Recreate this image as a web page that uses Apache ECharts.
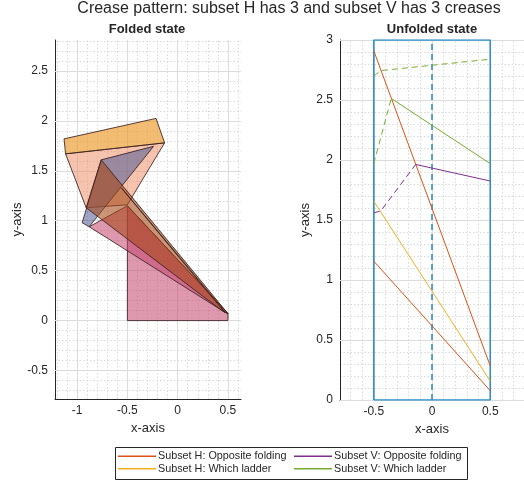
<!DOCTYPE html>
<html><head><meta charset="utf-8">
<script src="https://cdn.jsdelivr.net/npm/echarts@6/dist/echarts.min.js"></script>
<style>html,body{margin:0;padding:0;background:#fff}#c{width:524px;height:483px}</style>
</head><body><div id="c"></div>
<script>
// ---------- text ----------
const titleText = 'Crease pattern: subset H has 3 and subset V has 3 creases';
const leftTitle = 'Folded state';
const rightTitle = 'Unfolded state';
const legendNames = ['Subset H: Opposite folding', 'Subset H: Which ladder', 'Subset V: Opposite folding', 'Subset V: Which ladder'];

// ---------- ticks ----------
const leftXTicks = [-1, -0.5, 0, 0.5];
const leftYTicks = [-0.5, 0, 0.5, 1, 1.5, 2, 2.5];
const leftXMinor = [-1.2, -1.1, -0.9, -0.8, -0.7, -0.6, -0.4, -0.3, -0.2, -0.1, 0.1, 0.2, 0.3, 0.4, 0.6];
const leftYMinor = [-0.7, -0.6, -0.4, -0.3, -0.2, -0.1, 0.1, 0.2, 0.3, 0.4, 0.6, 0.7, 0.8, 0.9, 1.1, 1.2, 1.3, 1.4, 1.6, 1.7, 1.8, 1.9, 2.1, 2.2, 2.3, 2.4, 2.6, 2.7, 2.8];
const rightXTicks = [-0.5, 0, 0.5];
const rightYTicks = [0, 0.5, 1, 1.5, 2, 2.5, 3];
const rightXMinor = [-0.7, -0.6, -0.4, -0.3, -0.2, -0.1, 0.1, 0.2, 0.3, 0.4, 0.6, 0.7];
const rightYMinor = [0.1, 0.2, 0.3, 0.4, 0.6, 0.7, 0.8, 0.9, 1.1, 1.2, 1.3, 1.4, 1.6, 1.7, 1.8, 1.9, 2.1, 2.2, 2.3, 2.4, 2.6, 2.7, 2.8, 2.9];

// ---------- folded state faces (x, y) ----------
const facePinkBase = [[-0.5, 0], [0.5, 0], [0.5, 0.07], [-0.5, 1.15]];
const facePinkFlap = [[-0.5, 1.15], [0.5, 0.07], [0.46, 0.09], [-0.88, 0.94]];
const faceSalmon = [[-1.115, 1.67], [-0.13, 1.78], [-0.5, 1.16], [-0.91, 1.13]];
const faceBlue = [[-0.76, 1.61], [-0.24, 1.745], [-0.88, 0.94], [-0.95, 0.98]];
const faceBrown = [[-0.76, 1.61], [0.5, 0.07], [0.44, 0.1], [-0.91, 1.13]];
const faceTan = [[-0.56, 1.33], [0.47, 0.08], [0.43, 0.14]];
const faceOrange = [[-1.13, 1.82], [-0.215, 2.025], [-0.13, 1.78], [-1.115, 1.67]];

// ---------- unfolded state lines (x, y) ----------
const paperOutline = [[-0.5, 0], [0.5, 0], [0.5, 3], [-0.5, 3], [-0.5, 0]];
const centerLine = [[0, 0], [0, 3]];
const hOpp1 = [[-0.5, 2.91], [0.5, 0.285]];
const hOpp2 = [[-0.5, 1.157], [0.5, 0.078]];
const hWhich = [[-0.5, 1.657], [0.5, 0.157]];
const vOppSolid = [[-0.14, 1.963], [0.5, 1.825]];
const vOppDashed = [[-0.5, 1.56], [-0.44, 1.575], [-0.14, 1.963]];
const vWhichSolid = [[-0.35, 2.513], [0.5, 1.97]];
const vWhichDashedLow = [[-0.5, 1.97], [-0.35, 2.513]];
const vWhichDashedTop = [[-0.5, 2.70], [-0.44, 2.745], [0.5, 2.84]];

// ---------- styling ----------
const FONT = 'Liberation Sans, Arial, Helvetica, sans-serif';
const TXT = '#262626';
const colors = { hOpp: '#D95319', hWhich: '#EDB120', vOpp: '#7E2F8E', vWhich: '#77AC30', paper: '#2f8fc9' };
const faces = [
  { pts: facePinkBase, fill: 'rgba(196,70,110,0.55)' },
  { pts: facePinkFlap, fill: 'rgba(196,70,110,0.55)' },
  { pts: faceSalmon, fill: 'rgba(238,135,95,0.5)' },
  { pts: faceBlue, fill: 'rgba(80,90,145,0.55)' },
  { pts: faceBrown, fill: 'rgba(165,72,22,0.58)' },
  { pts: faceTan, fill: 'rgba(220,170,90,0.5)' },
  { pts: faceOrange, fill: 'rgba(236,152,40,0.65)' }
];

function gridMarkLines(xMajor, yMajor, xMinor, yMinor) {
  const minor = xMinor.map(v => ({ xAxis: v })).concat(yMinor.map(v => ({ yAxis: v })));
  const major = xMajor.map(v => ({ xAxis: v })).concat(yMajor.map(v => ({ yAxis: v })));
  return [
    { type: 'line', data: [], silent: true, z: 0,
      markLine: { z: 0, silent: true, symbol: ['none', 'none'], label: { show: false }, animation: false,
        lineStyle: { color: '#dadada', type: [1.5, 2], width: 1 }, data: minor } },
    { type: 'line', data: [], silent: true, z: 0,
      markLine: { z: 1, silent: true, symbol: ['none', 'none'], label: { show: false }, animation: false,
        lineStyle: { color: '#dcdcdc', type: 'solid', width: 1 }, data: major } }
  ];
}

function axisCommon(min, max, ticks, name, nameGap, isY) {
  return {
    type: 'value', min: min, max: max,
    splitLine: { show: false },
    axisLine: { show: true, onZero: false, lineStyle: { color: TXT, width: 1 } },
    axisTick: { show: true, inside: true, length: 3, customValues: ticks, lineStyle: { color: TXT } },
    axisLabel: { customValues: ticks, color: TXT, fontFamily: FONT, fontSize: 12, margin: isY ? 7 : 6,
      formatter: v => String(Math.round(v * 10) / 10) },
    name: name, nameLocation: 'middle', nameGap: nameGap,
    nameTextStyle: { color: TXT, fontFamily: FONT, fontSize: 13 }
  };
}

const grids = [
  { left: 55, top: 40, width: 186, height: 359 },
  { left: 340, top: 40, width: 188, height: 360 }
];
const xAxes = [
  Object.assign(axisCommon(-1.22, 0.63, leftXTicks, 'x-axis', 22, false), { gridIndex: 0 }),
  Object.assign(axisCommon(-0.79, 0.79, rightXTicks, 'x-axis', 21, false), { gridIndex: 1 })
];
const yAxes = [
  Object.assign(axisCommon(-0.785, 2.81, leftYTicks, 'y-axis', 30, true), { gridIndex: 0 }),
  Object.assign(axisCommon(0, 3, rightYTicks, 'y-axis', 28, true), { gridIndex: 1 })
];

const series = [];
gridMarkLines(leftXTicks, leftYTicks, leftXMinor, leftYMinor).forEach(s => { s.xAxisIndex = 0; s.yAxisIndex = 0; series.push(s); });
gridMarkLines(rightXTicks, rightYTicks, rightXMinor, rightYMinor).forEach(s => { s.xAxisIndex = 1; s.yAxisIndex = 1; series.push(s); });

// folded faces
series.push({
  type: 'custom', xAxisIndex: 0, yAxisIndex: 0, z: 3, silent: true, animation: false,
  data: faces.map((f, i) => [i]),
  renderItem: function (params, api) {
    const f = faces[api.value(0)];
    return { type: 'polygon', shape: { points: f.pts.map(p => api.coord(p)) },
      style: { fill: f.fill, stroke: 'rgba(55,30,30,0.85)', lineWidth: 1 } };
  }
});

function lineSeries(name, data, color, dashed, width, z) {
  return { type: 'line', name: name, xAxisIndex: 1, yAxisIndex: 1, data: data, symbol: 'none',
    silent: true, animation: false, z: z || 4,
    lineStyle: { color: color, width: width || 1, type: dashed ? [6, 4] : 'solid' },
    itemStyle: { color: color } };
}
series.push(lineSeries('paper', paperOutline, colors.paper, false, 1.6, 3));
series.push(lineSeries('center', centerLine, colors.paper, true, 1.6, 3));
series.push(lineSeries(legendNames[0], hOpp1, colors.hOpp, false));
series.push(lineSeries(legendNames[0], hOpp2, colors.hOpp, false));
series.push(lineSeries(legendNames[1], hWhich, colors.hWhich, false));
series.push(lineSeries(legendNames[2], vOppSolid, colors.vOpp, false));
series.push(lineSeries(legendNames[2], vOppDashed, colors.vOpp, true));
series.push(lineSeries(legendNames[3], vWhichSolid, colors.vWhich, false));
series.push(lineSeries(legendNames[3], vWhichDashedLow, colors.vWhich, true));
series.push(lineSeries(legendNames[3], vWhichDashedTop, colors.vWhich, true));

const legendCommon = { orient: 'vertical', icon: 'rect', itemWidth: 38, itemHeight: 1.4, itemGap: 0, padding: 0,
  selectedMode: false, textStyle: { color: TXT, fontFamily: FONT, fontSize: 10.8, lineHeight: 12.5, padding: [0, 0, 0, -3] } };

const option = {
  animation: false,
  backgroundColor: '#fff',
  grid: grids, xAxis: xAxes, yAxis: yAxes, series: series,
  legend: [
    Object.assign({ data: [legendNames[0], legendNames[1]], left: 118, top: 450 }, legendCommon),
    Object.assign({ data: [legendNames[2], legendNames[3]], left: 294, top: 450 }, legendCommon)
  ],
  graphic: [
    { type: 'text', x: 289, y: 9, z: 10, style: { text: titleText, align: 'center', verticalAlign: 'middle', fill: TXT, font: 'normal 16px ' + FONT } },
    { type: 'text', x: 147, y: 29, z: 10, style: { text: leftTitle, align: 'center', verticalAlign: 'middle', fill: TXT, font: 'bold 13px ' + FONT } },
    { type: 'text', x: 432, y: 29, z: 10, style: { text: rightTitle, align: 'center', verticalAlign: 'middle', fill: TXT, font: 'bold 13px ' + FONT } },
    { type: 'rect', shape: { x: 115.5, y: 447.5, width: 352, height: 32 }, style: { fill: 'none', stroke: '#262626', lineWidth: 1 }, z: 10 }
  ]
};
const chart = echarts.init(document.getElementById('c'), null, { renderer: 'canvas' });
chart.setOption(option);
</script></body></html>
